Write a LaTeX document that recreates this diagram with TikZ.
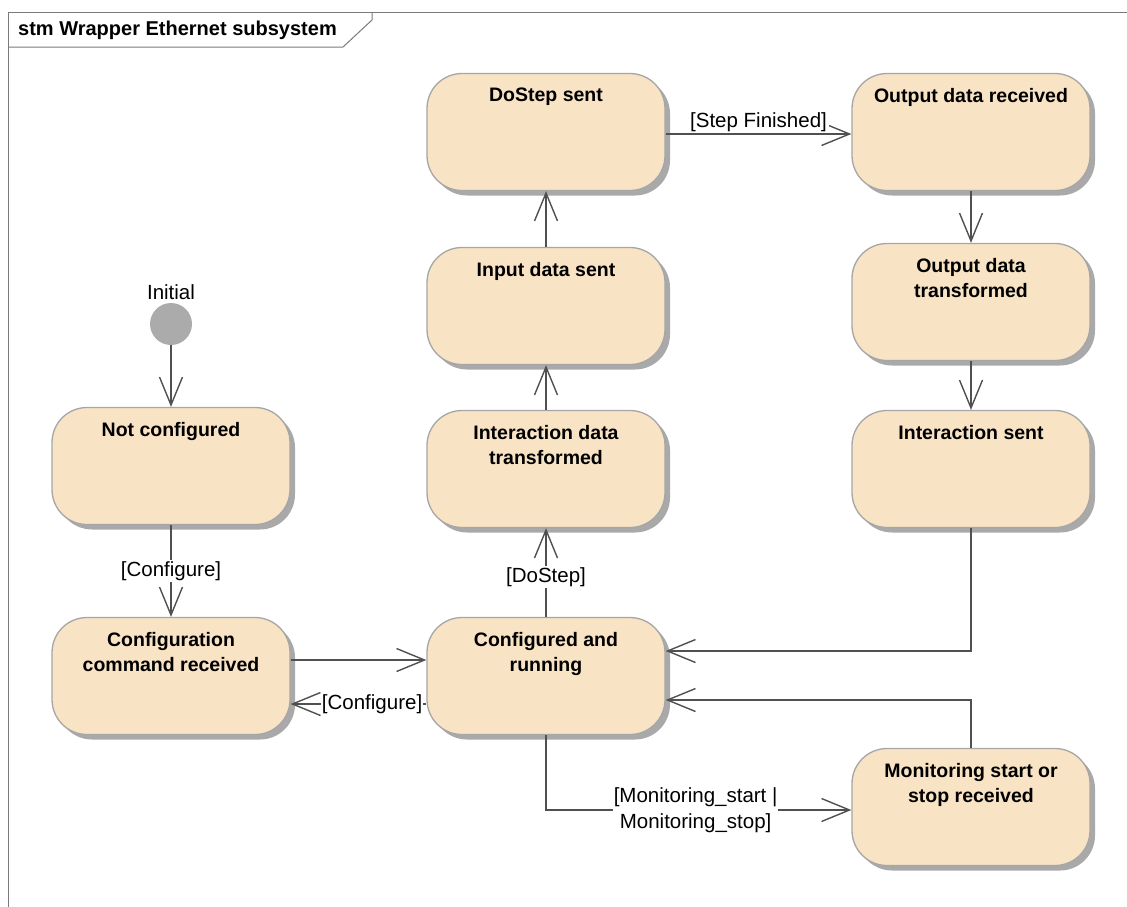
\documentclass[tikz,border=0pt]{standalone}
\usepackage{fontspec}
\setmainfont{Liberation Sans}
\usetikzlibrary{arrows.meta,shadows}
\definecolor{statefill}{HTML}{F8E3C4}
\definecolor{stateline}{HTML}{A6A6A6}
\definecolor{shadowgray}{HTML}{A9A9A9}
\definecolor{wire}{HTML}{505050}
\definecolor{framegray}{HTML}{7A7A7A}
\definecolor{initgray}{HTML}{ABABAB}
\begin{document}
\begin{tikzpicture}[x=1pt,y=-1pt,
  statebox/.style={draw=stateline, line width=1.3pt, fill=statefill,
    rounded corners=35pt, minimum width=238pt, minimum height=117pt,
    inner sep=0pt,
    drop shadow={shadow xshift=5pt, shadow yshift=-5pt, fill=shadowgray, opacity=1}},
  statetext/.style={font=\fontsize{19.5}{25}\selectfont\bfseries,
    align=center, anchor=north, inner sep=0pt},
  conn/.style={draw=wire, line width=1.4pt,
    -{Straight Barb[length=28pt, width=23pt, line width=1.4pt]}},
  lbl/.style={font=\fontsize{20.5}{26}\selectfont, fill=white,
    inner sep=1pt, align=center},
  initstate/.style={circle, fill=initgray, minimum size=42pt, inner sep=0pt}]

\useasboundingbox (0,0) rectangle (1127,906);
\clip (0,0) rectangle (1127,906);

% diagram frame with its name tab
\draw[framegray, line width=1pt] (8,920) -- (8,12) -- (1140,12);
\draw[framegray, line width=1pt] (8,47) -- (343,47) -- (372,20) -- (372,12);
\node[anchor=base west, inner sep=0pt, font=\fontsize{20}{24}\selectfont\bfseries]
  (title) at (18,35) {stm Wrapper Ethernet subsystem};

% initial pseudo-state
\node[initstate] (init) at (171,324) {};
\node[font=\fontsize{20.5}{24}\selectfont, inner sep=0pt] (initlbl) at (171,292) {Initial};

% states
\node[statebox] (nc)  at (171,466) {};
\node[statebox] (ccr) at (171,676) {};
\node[statebox] (car) at (546,676) {};
\node[statebox] (idt) at (546,469) {};
\node[statebox] (ids) at (546,306) {};
\node[statebox] (dss) at (546,132) {};
\node[statebox] (odr) at (971,132) {};
\node[statebox] (odt) at (971,302) {};
\node[statebox] (isn) at (971,469) {};
\node[statebox] (msr) at (971,807) {};

% state names
\node[statetext] (nct)  at ([yshift=-15pt]nc.north)  {Not configured};
\node[statetext] (ccrt) at ([yshift=-15pt]ccr.north) {Configuration\\command received};
\node[statetext] (cart) at ([yshift=-15pt]car.north) {Configured and\\running};
\node[statetext] (idtt) at ([yshift=-15pt]idt.north) {Interaction data\\transformed};
\node[statetext] (idst) at ([yshift=-15pt]ids.north) {Input data sent};
\node[statetext] (dsst) at ([yshift=-15pt]dss.north) {DoStep sent};
\node[statetext] (odrt) at ([yshift=-15pt]odr.north) {Output data received};
\node[statetext] (odtt) at ([yshift=-15pt]odt.north) {Output data\\transformed};
\node[statetext] (isnt) at ([yshift=-15pt]isn.north) {Interaction sent};
\node[statetext] (msrt) at ([yshift=-15pt]msr.north) {Monitoring start or\\stop received};

% attachment points of the transitions
\coordinate (a1) at ([yshift=16pt]ccr.east);
\coordinate (a2) at ([yshift=-28pt]car.west);
\coordinate (b1) at ([yshift=25pt]car.east);
\coordinate (b2) at ([yshift=-24pt]car.east);
\coordinate (c1) at ([yshift=-3pt]msr.west);

% transitions
\draw[conn] (init) -- (nc);
\draw[conn] (nc) -- node[lbl] (l1) {[Configure]} (ccr);
\draw[conn] (a1) -- (a1 -| car.west);
\draw[conn] (a2) -- node[lbl, pos=0.4] (l2) {[Configure]} (a2 -| ccr.east);
\draw[conn] (car) -- node[lbl, pos=0.45] (l3) {[DoStep]} (idt);
\draw[conn] (idt) -- (ids);
\draw[conn] (ids) -- (dss);
\draw[conn] ([yshift=-2pt]dss.east) -- node[lbl, above, inner sep=2pt] (l4) {[Step Finished]} ([yshift=-2pt]odr.west);
\draw[conn] (odr) -- (odt);
\draw[conn] (odt) -- (isn);
\draw[conn] (isn.south) |- (b1);
\draw[conn] (msr.north) |- (b2);
\draw[conn] (car.south) |- node[lbl, pos=0.745] (l5) {[Monitoring\_start |\\Monitoring\_stop]} (c1);

\end{tikzpicture}
\end{document}
